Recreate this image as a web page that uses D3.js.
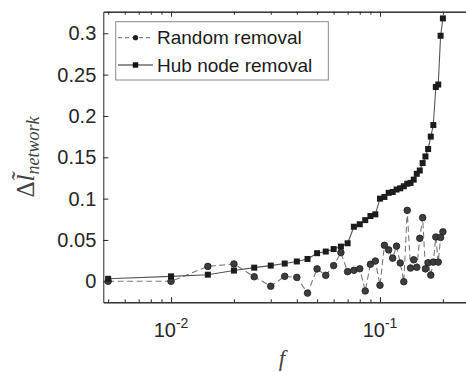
<!DOCTYPE html>
<html>
<head>
<meta charset="utf-8">
<script src="https://cdn.jsdelivr.net/npm/d3@7"></script>
<style>
  html, body { margin: 0; padding: 0; background: #fff; }
  svg { display: block; }
</style>
</head>
<body>
<svg id="chart" width="466" height="372"></svg>
<script>
// ---- data ----
const fValues = [0.005, 0.01, 0.015, 0.02, 0.025, 0.03, 0.035, 0.04, 0.045, 0.05,
                 0.055, 0.06, 0.065, 0.07, 0.075, 0.08, 0.085, 0.09, 0.095, 0.1,
                 0.105, 0.11, 0.115, 0.12, 0.125, 0.13, 0.135, 0.14, 0.145, 0.15,
                 0.155, 0.16, 0.165, 0.17, 0.175, 0.18, 0.185, 0.19, 0.195, 0.2];
const randomRemoval = [0, 0, 0.018, 0.021, 0.0055, -0.006, 0.006, 0.0047, -0.0143, 0.015,
                       0.0072, 0.019, 0.0347, 0.0117, 0.0133, 0.0152, -0.0117, 0.0206, 0.0245, -0.0048,
                       0.0435, 0.038, 0.028, 0.0425, 0.0222, -0.0005, 0.0858, 0.016, 0.026, 0.017,
                       0.052, 0.077, 0.015, 0.0225, 0.0075, 0.0232, 0.0536, 0.0232, 0.053, 0.0598];
const hubRemoval = [0.003, 0.006, 0.008, 0.013, 0.0165, 0.019, 0.0215, 0.024, 0.027, 0.034,
                    0.036, 0.039, 0.042, 0.046, 0.066, 0.069, 0.074, 0.079, 0.081, 0.1,
                    0.102, 0.107, 0.108, 0.111, 0.1125, 0.115, 0.118, 0.119, 0.123, 0.130,
                    0.134, 0.143, 0.151, 0.160, 0.175, 0.189, 0.235, 0.238, 0.297, 0.318];
const seriesNames = ["Random removal", "Hub node removal"];
const yTicks = [0, 0.05, 0.1, 0.15, 0.2, 0.25, 0.3];
const xMajorTicks = [0.01, 0.1];
const xMajorExponents = ["-2", "-1"];
const xMinorTicks = [0.005, 0.006, 0.007, 0.008, 0.009, 0.02, 0.03, 0.04, 0.05, 0.06, 0.07, 0.08, 0.09, 0.2];

// ---- layout ----
const L = 103.3, R = 466, T = 11.7, B = 302.3;
const svg = d3.select("#chart");
const x = d3.scaleLog().domain([0.00474, 0.258]).range([L, R]);
const y = d3.scaleLinear().domain([-0.0254, 0.3261]).range([B, T]);
const axisColor = "#262626";
const tickFont = "'Liberation Sans', Arial, Helvetica, sans-serif";

// axes
function styleAxis(g) {
  g.selectAll("path.domain").attr("stroke", axisColor).attr("stroke-width", 1);
  g.selectAll(".tick line").attr("stroke", axisColor).attr("stroke-width", 1);
  g.selectAll("text").attr("fill", axisColor).style("font-family", tickFont).style("font-size", "20px");
}
svg.append("g").attr("transform", `translate(0,${B})`)
  .call(d3.axisBottom(x).tickValues(xMinorTicks).tickSize(-3).tickSizeOuter(0).tickFormat(""))
  .call(styleAxis);
svg.append("g").attr("transform", `translate(0,${B})`)
  .call(d3.axisBottom(x).tickValues(xMajorTicks).tickSize(-5).tickSizeOuter(0).tickFormat(""))
  .call(styleAxis);
svg.append("g").attr("transform", `translate(0,${T})`)
  .call(d3.axisTop(x).tickValues(xMinorTicks).tickSize(-3).tickSizeOuter(0).tickFormat(""))
  .call(styleAxis);
svg.append("g").attr("transform", `translate(0,${T})`)
  .call(d3.axisTop(x).tickValues(xMajorTicks).tickSize(-5).tickSizeOuter(0).tickFormat(""))
  .call(styleAxis);
svg.append("g").attr("transform", `translate(${L},0)`)
  .call(d3.axisLeft(y).tickValues(yTicks).tickSize(-5).tickSizeOuter(0).tickPadding(7)
        .tickFormat(d => String(d)))
  .call(styleAxis);

// x tick labels with superscripts
const xl = svg.append("g");
xMajorTicks.forEach((v, i) => {
  const t = xl.append("text").attr("x", x(v)).attr("y", 336.5)
    .attr("text-anchor", "middle").attr("fill", axisColor)
    .style("font-family", tickFont).style("font-size", "20px");
  t.append("tspan").text("10");
  t.append("tspan").attr("dy", -9).style("font-size", "14px").text(xMajorExponents[i]);
});

// axis labels
svg.append("text").attr("x", 282).attr("y", 366)
  .attr("text-anchor", "middle").attr("fill", "#444")
  .style("font-family", "'Liberation Serif', 'DejaVu Serif', serif")
  .style("font-style", "italic").style("font-size", "23px").text("f");

const yl = svg.append("text").attr("transform", "translate(34,157) rotate(-90)")
  .attr("text-anchor", "middle").attr("fill", "#444")
  .style("font-family", "'Liberation Serif', 'DejaVu Serif', serif").style("font-size", "25px");
yl.append("tspan").text("Δ");
yl.append("tspan").style("font-style", "italic").text("l\u0303");
yl.append("tspan").attr("dy", 5).style("font-style", "italic").style("font-size", "18px").text("network");

// series
const lineGen = d3.line().x(d => x(d[0])).y(d => y(d[1]));
const randomData = fValues.map((f, i) => [f, randomRemoval[i]]);
const hubData = fValues.map((f, i) => [f, hubRemoval[i]]);

const plot = svg.append("g");
plot.append("path").datum(randomData).attr("d", lineGen)
  .attr("fill", "none").attr("stroke", "#7a7a7a").attr("stroke-width", 1.1)
  .attr("stroke-dasharray", "6,3.5");
plot.append("path").datum(hubData).attr("d", lineGen)
  .attr("fill", "none").attr("stroke", "#555").attr("stroke-width", 1.1);

plot.selectAll("circle.rm").data(randomData).enter().append("circle")
  .attr("class", "rm").attr("cx", d => x(d[0])).attr("cy", d => y(d[1]))
  .attr("r", 3.3).attr("fill", "#3d3d3d").attr("stroke", "#1e1e1e").attr("stroke-width", 0.8);
const sq = 6;
plot.selectAll("rect.hub").data(hubData).enter().append("rect")
  .attr("class", "hub").attr("x", d => x(d[0]) - sq / 2).attr("y", d => y(d[1]) - sq / 2)
  .attr("width", sq).attr("height", sq).attr("fill", "#1c1c1c");

// legend
const lg = svg.append("g");
lg.append("rect").attr("x", 115.7).attr("y", 21.7).attr("width", 212.6).attr("height", 58.3)
  .attr("fill", "#fff").attr("stroke", "#8a8a8a").attr("stroke-width", 1);
const rows = [37.7, 65];
lg.append("line").attr("x1", 118).attr("x2", 153).attr("y1", rows[0]).attr("y2", rows[0])
  .attr("stroke", "#666").attr("stroke-width", 1).attr("stroke-dasharray", "4,3");
lg.append("circle").attr("cx", 135.5).attr("cy", rows[0]).attr("r", 2.6).attr("fill", "#1e1e1e");
lg.append("line").attr("x1", 118).attr("x2", 153).attr("y1", rows[1]).attr("y2", rows[1])
  .attr("stroke", "#222").attr("stroke-width", 1);
lg.append("rect").attr("x", 135.5 - 2.7).attr("y", rows[1] - 2.7).attr("width", 5.4).attr("height", 5.4)
  .attr("fill", "#111");
seriesNames.forEach((n, i) => {
  lg.append("text").attr("x", 157).attr("y", rows[i]).attr("dy", "0.35em")
    .attr("fill", "#1a1a1a").style("font-family", tickFont).style("font-size", "19px").text(n);
});
</script>
</body>
</html>
